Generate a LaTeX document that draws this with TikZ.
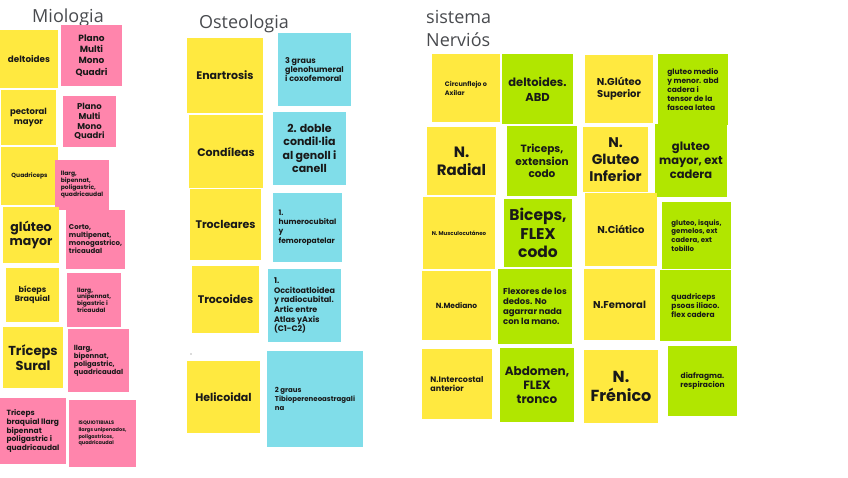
\documentclass[tikz,border=0pt]{standalone}
\usepackage{fontspec}
\setmainfont{Poppins}
\newfontfamily\titlefont{Open Sans}
\definecolor{cYel}{RGB}{255,233,64}
\definecolor{cPnk}{RGB}{255,133,172}
\definecolor{cCyn}{RGB}{128,221,233}
\definecolor{cGrn}{RGB}{177,230,0}
\definecolor{cTtl}{RGB}{72,74,78}
\tikzset{
  note/.style={draw=none, inner sep=1pt, outer sep=0pt, anchor=north west, align=center, text=black!90},
  nw/.style={minimum width=#1pt},
  nh/.style={minimum height=#1pt},
  fz/.style n args={2}{font=\bfseries\fontsize{#1}{#2}\selectfont},
  yel/.style={note, fill=cYel},
  pnk/.style={note, fill=cPnk},
  cyn/.style={note, fill=cCyn},
  grn/.style={note, fill=cGrn},
  ttl/.style={font=\titlefont\fontsize{18}{22}\selectfont, text=cTtl, inner sep=0pt}
}
\begin{document}
\begin{tikzpicture}[x=1pt, y=-1pt]
\useasboundingbox (0,0) rectangle (848,477);
% titles
\node[ttl, anchor=base] (tMio) at (68,22) {Miologia};
\node[ttl, anchor=base] (tOst) at (244,28) {Osteologia};
\node[ttl, anchor=base west] (tSis) at (426,23) {sistema};
\node[ttl, anchor=base west] (tNer) at (426,46) {Nerviós};
% Miologia
\node[yel, nw=58, nh=58, fz={8.8}{11}] (m1) at (0,30) {deltoides};
\node[pnk, nw=61, nh=61, fz={9}{11.2}] (m2) at (61,25) {Plano\\Multi\\Mono\\Quadri};
\node[yel, nw=55, nh=55, fz={8.5}{10}] (m3) at (1,90) {pectoral\\mayor};
\node[pnk, nw=53, nh=51, fz={8.5}{9.8}] (m4) at (63,96) {Plano\\Multi\\Mono\\Quadri};
\node[yel, nw=57, nh=58, fz={6}{7}] (m5) at (1,147) {Quadriceps};
\node[pnk, nw=54, nh=50, fz={6}{7}, align=left] (m6) at (55,160) {llarg,\\bipennat,\\poligastric,\\quadricaudal};
\node[yel, nw=56, nh=56, fz={12.5}{14.3}] (m7) at (3,207) {glúteo\\mayor};
\node[pnk, nw=59, nh=59, fz={7}{8}, align=left] (m8) at (66,210) {Corto,\\multipenat,\\monogastrico,\\tricaudal};
\node[yel, nw=53, nh=54, fz={8}{9.3}] (m9) at (6,268) {bíceps\\Braquial};
\node[pnk, nw=54, nh=54, fz={6}{6.8}, align=left] (m10) at (67,273) {llarg,\\unipennat,\\bigastric i\\tricaudal};
\node[yel, nw=60, nh=61, fz={13}{15}] (m11) at (3,327) {Tríceps\\Sural};
\node[pnk, nw=61, nh=63, fz={7}{8}, align=left] (m12) at (68,329) {llarg,\\bipennat,\\poligastric,\\quadricaudal};
\node[pnk, nw=66, nh=66, fz={7.5}{8.7}, align=left] (m13) at (0,398) {Triceps\\braquial llarg\\bipennat\\poligastric i\\quadricaudal};
\node[pnk, nw=67, nh=67, fz={5}{6.8}, align=left] (m14) at (69,400) {ISQUIOTIBIALS\\llargs unipenados,\\poligastricos,\\quadricaudal};
% Osteologia
\node[yel, nw=76, nh=75, fz={11}{13}] (o1) at (187,38) {Enartrosis};
\node[cyn, nw=73, nh=73, fz={8}{9.3}, align=left] (o2) at (278,33) {3 graus\\glenohumeral\\i coxofemoral};
\node[yel, nw=74, nh=73, fz={11}{13}] (o3) at (189,115) {Condíleas};
\node[cyn, nw=73, nh=73, fz={11}{13.3}] (o4) at (273,112) {2. doble\\condil·lia\\al genoll i\\canell};
\node[yel, nw=71, nh=71, fz={11}{13}] (o5) at (190,189) {Trocleares};
\node[cyn, nw=69, nh=69, fz={7.5}{9.2}, align=left] (o6) at (273,193) {1.\\humerocubital\\y\\femoropatelar};
\node[yel, nw=67, nh=67, fz={11}{13}] (o7) at (192,266) {Trocoides};
\node[cyn, nw=73, nh=73, fz={8}{9.7}, align=left] (o8) at (268,269) {1.\\Occitoatloidea\\y radiocubital.\\Artic entre\\Atlas yAxis\\(C1-C2)};
\fill[black!60] (191,354) circle (0.7);
\node[yel, nw=73, nh=72, fz={11}{13}] (o9) at (187,361) {Helicoidal};
\node[cyn, nw=96, nh=96, fz={7}{8.7}, align=left] (o10) at (267,351) {2 graus\\Tibiopereneoastragali\\na};
% Sistema nervios
\node[yel, nw=68, nh=68, fz={6.5}{9}, align=left] (n1) at (432,54) {Circunflejo o\\Axilar};
\node[grn, nw=71, nh=70, fz={11.5}{15}] (n2) at (502,54) {deltoides.\\ABD};
\node[yel, nw=69, nh=68, fz={15}{18}] (n3) at (427,127) {N.\\Radial};
\node[grn, nw=70, nh=70, fz={10.5}{12.8}] (n4) at (507,126) {Triceps,\\extension\\codo};
\node[yel, nw=68, nh=68, fz={10}{11.7}] (n5) at (585,55) {N.Glúteo\\Superior};
\node[grn, nw=70, nh=71, fz={7.5}{9.2}, align=left] (n6) at (658,54) {gluteo medio\\y menor. abd\\cadera i\\tensor de la\\fascea latea};
\node[yel, nw=65, nh=65, fz={14}{16.7}] (n7) at (583,127) {N.\\Gluteo\\Inferior};
\node[grn, nw=72, nh=73, fz={11.5}{13.8}] (n8) at (655,124) {gluteo\\mayor, ext\\cadera};
\node[yel, nw=72, nh=72, fz={5.5}{6.5}] (n9) at (423,197) {N. Musculocutáneo};
\node[grn, nw=68, nh=68, fz={15.5}{18.3}] (n10) at (504,199) {Biceps,\\FLEX\\codo};
\node[yel, nw=69, nh=69, fz={7.5}{9}] (n11) at (422,271) {N.Mediano};
\node[grn, nw=74, nh=75, fz={8.5}{10.2}, align=left] (n12) at (498,269) {Flexores de los\\dedos. No\\agarrar nada\\con la mano.};
\node[yel, nw=70, nh=70, fz={8}{9.7}, align=left] (n13) at (422,349) {N.Intercostal\\anterior};
\node[grn, nw=74, nh=74, fz={12}{14.2}] (n14) at (500,348) {Abdomen,\\FLEX\\tronco};
\node[yel, nw=72, nh=73, fz={10}{12}] (n15) at (585,193) {N.Ciático};
\node[grn, nw=69, nh=67, fz={7}{8.7}, align=left] (n16) at (662,202) {gluteo, isquis,\\gemelos, ext\\cadera, ext\\tobillo};
\node[yel, nw=71, nh=71, fz={10}{12}] (n17) at (584,269) {N.Femoral};
\node[grn, nw=71, nh=71, fz={7.5}{9.3}, align=left] (n18) at (660,270) {quadriceps\\psoas iliaco.\\flex cadera};
\node[yel, nw=74, nh=73, fz={16}{19}] (n19) at (584,350) {N.\\Frénico};
\node[grn, nw=69, nh=70, fz={7.5}{9}] (n20) at (668,346) {diafragma.\\respiracion};
\end{tikzpicture}
\end{document}
